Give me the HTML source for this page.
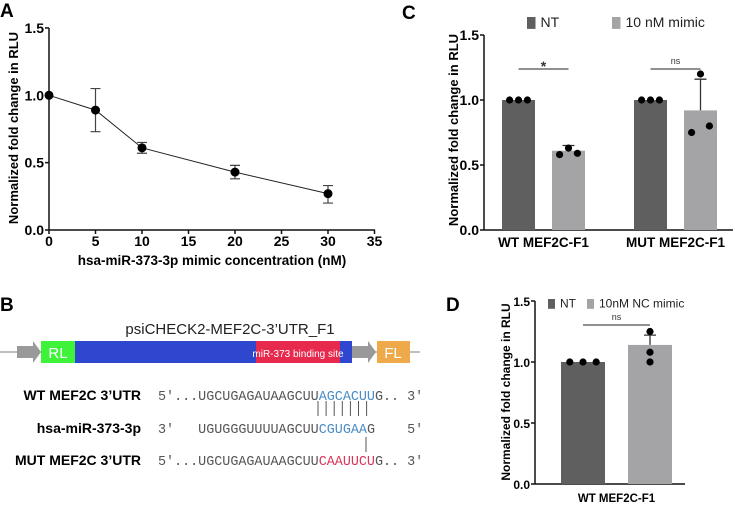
<!DOCTYPE html>
<html><head><meta charset="utf-8"><style>
html,body{margin:0;padding:0;background:#fff}
svg{display:block}
text{font-family:"Liberation Sans",sans-serif}
.b{font-weight:bold}
.mono{font-family:"Liberation Mono",monospace;font-size:13.4px;fill:#555}
</style></head><body>
<svg id="s" width="735" height="507" viewBox="0 0 735 507" xmlns="http://www.w3.org/2000/svg">
<text x="0" y="17" class="b" font-size="19">A</text>
<text x="402" y="19" class="b" font-size="19">C</text>
<text x="0" y="311" class="b" font-size="19">B</text>
<text x="446" y="311" class="b" font-size="19">D</text>

<g id="A"></g>
<g id="C"></g>
<g id="D"></g>

<g>
<text x="230" y="334" font-size="15" text-anchor="middle" fill="#222">psiCHECK2-MEF2C-3’UTR_F1</text>
<line x1="0" y1="352" x2="420" y2="352" stroke="#aaa" stroke-width="1.5"/>
<polygon points="17,346 33,346 33,341 41,352 33,363 33,358 17,358" fill="#999"/>
<rect x="41" y="341" width="34" height="22" fill="#3ef33a"/>
<text x="58" y="358" font-size="15" fill="#fff" text-anchor="middle">RL</text>
<rect x="75" y="341" width="277" height="22" fill="#2f46cf"/>
<rect x="256" y="341" width="84" height="22" fill="#e8294e"/>
<text x="298" y="357" font-size="10" fill="#fff" text-anchor="middle">miR-373 binding site</text>
<polygon points="352,346 368,346 368,341 376,352 368,363 368,358 352,358" fill="#999"/>
<rect x="377" y="341" width="33" height="22" fill="#eeaa4a"/>
<text x="393" y="358" font-size="15" fill="#fff" text-anchor="middle">FL</text>
</g>
<g>
<text x="141" y="400" class="b" font-size="14" text-anchor="end">WT MEF2C 3’UTR</text>
<text x="141" y="433" class="b" font-size="14" text-anchor="end">hsa-miR-373-3p</text>
<text x="141" y="465" class="b" font-size="14" text-anchor="end">MUT MEF2C 3’UTR</text>
<text x="158" y="400" class="mono">5'...UGCUGAGAUAAGCUU<tspan fill="#4a8cc8">AGCACUU</tspan>G.. 3'</text>
<text x="158" y="433" class="mono" xml:space="preserve">3'   UGUGGGUUUUAGCUU<tspan fill="#4a8cc8">CGUGAA</tspan>G    5'</text>
<text x="158" y="465" class="mono">5'...UGCUGAGAUAAGCUU<tspan fill="#d9365a">CAAUUCU</tspan>G.. 3'</text>
<g id="pairs" stroke="#555" stroke-width="1"></g>
<line x1="366" y1="437" x2="366" y2="452" stroke="#555"/>
</g>
</svg>
<script>
const NS="http://www.w3.org/2000/svg";
function mk(p,t,a){const e=document.createElementNS(NS,t);for(const k in a)e.setAttribute(k,a[k]);p.appendChild(e);return e;}
const pg=document.getElementById('pairs');
for(let i=0;i<7;i++){const l=mk(pg,'line',{x1:318+i*8.1,y1:401,x2:318+i*8.1,y2:416});

}

// ===== Panel A data =====
const aConc=[0,5,10,20,30];
const aMean=[1.0,0.89,0.61,0.43,0.27];
const aLow=[1.0,0.73,0.57,0.38,0.20];
const aHigh=[1.0,1.05,0.65,0.48,0.33];
const aXTicks=[0,5,10,15,20,25,30,35];
const yTicks=[0,0.5,1.0,1.5];
const yTickLabels=["0.0","0.5","1.0","1.5"];

// ===== Panel C data =====
const cGroups=["WT MEF2C-F1","MUT MEF2C-F1"];
const cNT=[1.0,1.0];
const cMimic=[0.61,0.92];
const cMimicErr=[0.65,1.16];
const cNTDots=[[1,1,1],[1,1,1]];
const cMimicDots=[[0.58,0.63,0.59],[0.75,1.2,0.8]];
const cSig=["*","ns"];

// ===== Panel D data =====
const dNT=[1.0];
const dMimic=[1.14];
const dMimicErr=[1.22];
const dNTDots=[[1,1,1]];
const dMimicDots=[[1.0,1.25,1.08]];

const DARK="#5f5f5f",LIGHT="#a4a4a6";

function yAxis(g,x0,yf,xEnd,fs){
  mk(g,'line',{x1:x0,y1:yf(0),x2:x0,y2:yf(1.5),stroke:'#111','stroke-width':1.5});
  mk(g,'line',{x1:x0,y1:yf(0),x2:xEnd,y2:yf(0),stroke:'#111','stroke-width':1.5});
  yTicks.forEach((v,i)=>{
    const t=mk(g,'line',{x1:x0-4,y1:yf(v),x2:x0,y2:yf(v),stroke:'#111','stroke-width':1.5});
    
    
    const l=mk(g,'text',{x:x0-5,y:yf(v)+5,'font-size':fs,'text-anchor':'end','font-weight':'bold'});
    l.textContent=yTickLabels[i];
    
    
  });
}
function yTitle(g,x,y,fs){
  const t=mk(g,'text',{x:0,y:0,'font-size':fs,'font-weight':'bold','text-anchor':'middle',transform:`translate(${x},${y}) rotate(-90)`});
  t.textContent="Normalized fold change in RLU";
  
  
}

(function(){
  const g=document.getElementById('A');
  const xf=v=>49+v*9.3, yf=v=>230-v*134.7;
  yAxis(g,49,yf,375,14);
  aXTicks.forEach(v=>{
    const t=mk(g,'line',{x1:xf(v),y1:230,x2:xf(v),y2:234,stroke:'#111','stroke-width':1.5});
    
    
    const l=mk(g,'text',{x:xf(v),y:246,'font-size':14,'font-weight':'bold','text-anchor':'middle'});
    l.textContent=v;
    
    
  });
  const xt=mk(g,'text',{x:212,y:265,'font-size':13.5,'font-weight':'bold','text-anchor':'middle'});
  xt.textContent="hsa-miR-373-3p mimic concentration (nM)";
  
  
  yTitle(g,18,128,13);
  const pl=mk(g,'polyline',{points:aConc.map((c,i)=>xf(c)+','+yf(aMean[i])).join(' '),fill:'none',stroke:'#222','stroke-width':1});
  
  
  aConc.forEach((c,i)=>{
    const x=xf(c);
    if(aHigh[i]!==aLow[i]){
      const e=mk(g,'path',{d:`M${x},${yf(aLow[i])}V${yf(aHigh[i])}M${x-5},${yf(aLow[i])}H${x+5}M${x-5},${yf(aHigh[i])}H${x+5}`,stroke:'#444','stroke-width':1.2,fill:'none'});
      
      
    }
    const d=mk(g,'circle',{cx:x,cy:yf(aMean[i]),r:4.5,fill:'#000'});
    
    
  });
})();

function barPanel(g,o){
  const yf=v=>o.y0-v*o.k;
  yAxis(g,o.x0,yf,o.xEnd,o.fs);
  o.groups.forEach((name,gi)=>{
    const xs=[o.barX[gi][0],o.barX[gi][1]];
    [[o.nt,DARK,o.ntDots,null,o.spreadNT],[o.mim,LIGHT,o.mimDots,o.err,o.spreadM]].forEach((s,si)=>{
      const x=xs[si],v=s[0][gi];
      if(s[3]){
        const e=mk(g,'path',{d:`M${x+o.bw/2},${yf(v)}V${yf(s[3][gi])}M${x+o.bw/2-6},${yf(s[3][gi])}H${x+o.bw/2+6}`,stroke:'#333','stroke-width':1.3,fill:'none'});
        
        
      }
      const r=mk(g,'rect',{x:x,y:yf(v),width:o.bw,height:yf(0)-yf(v),fill:s[1]});
      
      
      s[2][gi].forEach((dv,di)=>{
        const c=mk(g,'circle',{cx:x+o.bw/2+(di-1)*o.bw*s[4],cy:yf(dv),r:3.6,fill:'#000'});
        
        
      });
    });
    const lx=(xs[0]+xs[1]+o.bw)/2;
    const l=mk(g,'text',{x:lx,y:o.labelY,'font-size':o.fs-0.5,'font-weight':'bold','text-anchor':'middle'});
    l.textContent=name;
    
    
    const sl=mk(g,'line',{x1:xs[0]+o.bw/2,y1:o.sigY,x2:xs[1]+o.bw/2,y2:o.sigY,stroke:'#222','stroke-width':1});
    
    
    const st=mk(g,'text',{x:lx,y:o.sigY-(o.sig[gi]=="*"?-2:5),'font-size':o.sig[gi]=="*"?14:9,'font-weight':o.sig[gi]=="*"?'bold':'normal','text-anchor':'middle',fill:'#333'});
    st.textContent=o.sig[gi];
    
    
  });
  o.legend.forEach(L=>{
    const r=mk(g,'rect',{x:L[0],y:L[1],width:L[2],height:L[2]*1.4,fill:L[3]});
    
    
    const t=mk(g,'text',{x:L[0]+L[2]+5,y:L[1]+L[2]*1.2,'font-size':L[5],fill:'#222'});
    t.textContent=L[4];
    
    
  });
}
barPanel(document.getElementById('C'),{x0:484,y0:230,k:130,xEnd:733,fs:14,groups:cGroups,
  barX:[[502,552],[634,684]],bw:33,nt:cNT,mim:cMimic,err:cMimicErr,ntDots:cNTDots,mimDots:cMimicDots,
  spreadNT:0.27,spreadM:0.27,sig:cSig,sigY:69,labelY:247,
  legend:[[527,17,8.5,DARK,"NT",14],[612,17,8.5,LIGHT,"10 nM mimic",14]]});
yTitle(document.getElementById('C'),458,130,13);
barPanel(document.getElementById('D'),{x0:535,y0:484,k:122,xEnd:685,fs:12,groups:["WT MEF2C-F1"],
  barX:[[561,628]],bw:44,nt:dNT,mim:dMimic,err:dMimicErr,ntDots:dNTDots,mimDots:dMimicDots,
  spreadNT:0.3,spreadM:0,sig:["ns"],sigY:325,labelY:502,
  legend:[[548,299,7,DARK,"NT",12],[587,299,7,LIGHT,"10nM  NC mimic",12]]});
yTitle(document.getElementById('D'),510,392,12);
</script>
</body></html>
